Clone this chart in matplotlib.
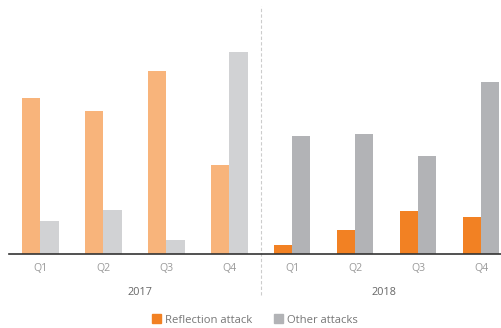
import matplotlib
matplotlib.use("Agg")
import matplotlib.pyplot as plt
from matplotlib.patches import Patch
from matplotlib.transforms import blended_transform_factory
import numpy as np

# Data
years = ["2017", "2018"]
quarters = ["Q1", "Q2", "Q3", "Q4"]
reflection_2017 = [156, 143, 183, 89]
other_2017 = [33, 44, 14, 202]
reflection_2018 = [9, 24, 43, 37]
other_2018 = [118, 120, 98, 172]

plt.rcParams["font.family"] = ["Open Sans", "DejaVu Sans"]

fig = plt.figure(figsize=(5.01, 3.28), dpi=100)
W, H = 501, 328
ax = fig.add_axes([9 / W, (H - 254) / H, 492 / W, 254 / H])

x = np.arange(8)
labels = quarters * 2
bw = 0.286

refl = reflection_2017 + reflection_2018
other = other_2017 + other_2018
refl_colors = ["#F8B47B"] * 4 + ["#F28123"] * 4
other_colors = ["#D1D2D4"] * 4 + ["#B2B3B6"] * 4

ax.bar(x - bw / 2, refl, width=bw, color=refl_colors, linewidth=0)
ax.bar(x + bw / 2, other, width=bw, color=other_colors, linewidth=0)

ax.set_xlim(-0.5, 7.31)
ax.set_ylim(0, 254)

for s in ["top", "right", "left"]:
    ax.spines[s].set_visible(False)
ax.spines["bottom"].set_color("#333333")
ax.spines["bottom"].set_linewidth(1.2)
ax.set_yticks([])
ax.set_xticks(x)
ax.set_xticklabels(labels, color="#999999", fontsize=7.6)
ax.tick_params(axis="x", length=0, pad=6.5)

# Divider between years
trans = blended_transform_factory(ax.transData, ax.transAxes)
ax.plot([3.5, 3.5], [-0.162, 0.976], transform=trans, clip_on=False,
        color="#cccccc", linestyle=(0, (3, 2)), linewidth=0.8)

# Year labels
ax.text(1.58, -0.153, years[0], transform=trans, ha="center", va="center",
        fontsize=7.8, color="#666666")
ax.text(5.45, -0.153, years[1], transform=trans, ha="center", va="center",
        fontsize=7.8, color="#666666")

handles = [Patch(color="#F28123", label="Reflection attack"),
           Patch(color="#B2B3B6", label="Other attacks")]
fig.legend(handles=handles, loc="center", bbox_to_anchor=(255 / W, 1 - 320 / H),
           ncol=2, frameon=False, fontsize=8.1, handlelength=0.8,
           handleheight=0.8, handletextpad=0.35, columnspacing=2.0,
           labelcolor="#777777")

fig.savefig("out.png", dpi=100)
